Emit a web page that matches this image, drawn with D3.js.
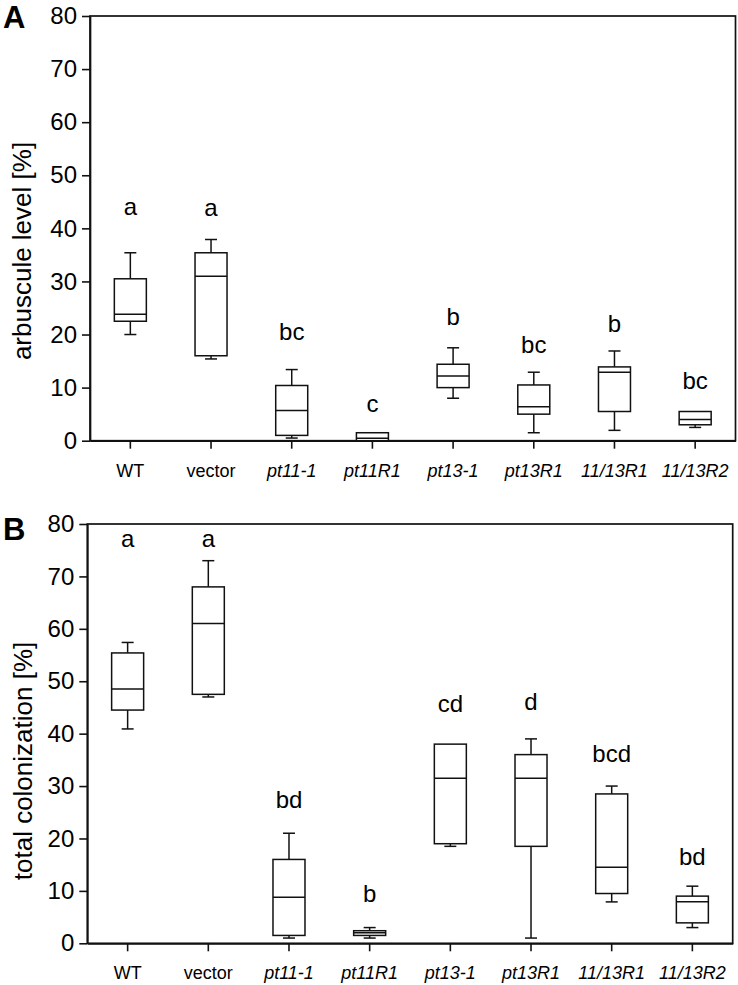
<!DOCTYPE html>
<html>
<head>
<meta charset="utf-8">
<script src="https://cdn.jsdelivr.net/npm/d3@7"></script>
<style>
  html, body { margin: 0; padding: 0; background: #fff; }
  svg { display: block; }
  text { font-family: Arial, "Liberation Sans", Helvetica, sans-serif; fill: #000; }
</style>
</head>
<body>
<svg id="chart" width="738" height="985"></svg>
<script>
// ---------- data ----------
const categories = ["WT", "vector", "pt11-1", "pt11R1", "pt13-1", "pt13R1", "11/13R1", "11/13R2"];
const italicCat  = [false, false, true, true, true, true, true, true];
const yTicks = [0, 10, 20, 30, 40, 50, 60, 70, 80];

// Panel A: arbuscule level [%]
const arbMin = [20.0, 15.4, 0.5, 0.0, 8.0, 1.5, 1.95, 2.5];
const arbQ1  = [22.5, 16.0, 1.0, 0.0, 10.0, 5.0, 5.5, 3.0];
const arbMed = [23.8, 31.0, 5.7, 0.45, 12.2, 6.4, 12.9, 4.0];
const arbQ3  = [30.5, 35.4, 10.4, 1.5, 14.4, 10.5, 13.9, 5.5];
const arbMax = [35.4, 37.9, 13.4, 1.5, 17.5, 12.9, 16.9, 5.5];
const arbLetters   = ["a", "a", "bc", "c", "b", "bc", "b", "bc"];
const arbLetterPos = [42.5, 42.3, 19.0, 5.5, 21.8, 16.5, 20.5, 9.7];

// Panel B: total colonization [%]
const colMin = [40.9, 47.0, 1.0, 1.0, 18.5, 1.0, 7.9, 3.0];
const colQ1  = [44.5, 47.5, 1.5, 1.5, 19.0, 18.5, 9.5, 3.9];
const colMed = [48.5, 61.0, 8.8, 2.0, 31.5, 31.5, 14.5, 7.95];
const colQ3  = [55.4, 68.0, 16.0, 2.4, 38.0, 36.0, 28.5, 9.0];
const colMax = [57.4, 73.0, 21.0, 3.0, 38.0, 39.0, 30.0, 10.9];
const colLetters   = ["a", "a", "bd", "b", "cd", "d", "bcd", "bd"];
const colLetterPos = [75.7, 75.7, 25.8, 7.9, 44.2, 44.5, 34.6, 14.9];

// ---------- drawing ----------
const svg = d3.select("#chart");
const INK = "#111";

function panel(cfg) {
  const g = svg.append("g");
  const x = d3.scaleBand().domain(categories).range([cfg.left, cfg.right]).padding(0);
  const y = d3.scaleLinear().domain([0, 80]).range([cfg.bottom, cfg.top]);
  const bw = 32, cap = 12;
  const cx = c => x(c) + x.bandwidth() / 2;

  // frame
  g.append("rect")
    .attr("x", cfg.left).attr("y", cfg.top)
    .attr("width", cfg.right - cfg.left).attr("height", cfg.bottom - cfg.top)
    .attr("fill", "none").attr("stroke", INK).attr("stroke-width", 1.7);

  // y axis
  const ya = g.append("g").attr("transform", `translate(${cfg.left},0)`)
    .call(d3.axisLeft(y).tickValues(yTicks).tickSize(8).tickSizeOuter(0).tickPadding(5));
  ya.select(".domain").attr("stroke", INK).attr("stroke-width", 1.7);
  ya.selectAll(".tick line").attr("stroke", INK).attr("stroke-width", 1.6);
  ya.selectAll(".tick text").style("font-size", "24px").attr("fill", "#000");

  // x axis
  const xa = g.append("g").attr("transform", `translate(0,${cfg.bottom})`)
    .call(d3.axisBottom(x).tickSize(8).tickSizeOuter(0).tickPadding(0));
  xa.select(".domain").attr("stroke", INK).attr("stroke-width", 1.7);
  xa.selectAll(".tick line").attr("stroke", INK).attr("stroke-width", 1.6);
  xa.selectAll(".tick text")
    .attr("y", 36).attr("dy", null)
    .style("font-size", "18px")
    .style("font-style", (d, i) => italicCat[i] ? "italic" : "normal")
    .attr("fill", "#000");

  // y title
  g.append("text")
    .attr("transform", `translate(${cfg.titleX},${cfg.titleY}) rotate(-90)`)
    .attr("text-anchor", "middle")
    .attr("dy", "0.35em")
    .style("font-size", "26px")
    .text(cfg.title);

  // panel label
  g.append("text")
    .attr("x", 3).attr("y", cfg.labelY)
    .style("font-size", "31px").style("font-weight", "bold")
    .text(cfg.label);

  // boxes
  const d = categories.map((c, i) => ({
    c, min: cfg.min[i], q1: cfg.q1[i], med: cfg.med[i], q3: cfg.q3[i], max: cfg.max[i],
    letter: cfg.letters[i], lp: cfg.letterPos[i]
  }));
  const bx = g.selectAll("g.box").data(d).join("g").attr("class", "box");
  function ln(sel, x1, y1, x2, y2) {
    sel.append("line").attr("x1", x1).attr("y1", y1).attr("x2", x2).attr("y2", y2)
      .attr("stroke", INK).attr("stroke-width", 1.5);
  }
  bx.each(function(b) {
    const s = d3.select(this);
    const xc = cx(b.c);
    if (b.max > b.q3) {
      ln(s, xc, y(b.q3), xc, y(b.max));
      ln(s, xc - cap / 2, y(b.max), xc + cap / 2, y(b.max));
    }
    if (b.min < b.q1) {
      ln(s, xc, y(b.q1), xc, y(b.min));
      ln(s, xc - cap / 2, y(b.min), xc + cap / 2, y(b.min));
    }
    s.append("rect")
      .attr("x", xc - bw / 2).attr("y", y(b.q3))
      .attr("width", bw).attr("height", Math.max(0, y(b.q1) - y(b.q3)))
      .attr("fill", "#fff").attr("stroke", INK).attr("stroke-width", 1.5);
    ln(s, xc - bw / 2, y(b.med), xc + bw / 2, y(b.med));
    s.append("text")
      .attr("x", xc).attr("y", y(b.lp))
      .attr("text-anchor", "middle")
      .style("font-size", "24px")
      .text(b.letter);
  });
}

panel({
  left: 90, right: 735.5, top: 16, bottom: 440.7,
  min: arbMin, q1: arbQ1, med: arbMed, q3: arbQ3, max: arbMax,
  letters: arbLetters, letterPos: arbLetterPos,
  title: "arbuscule level [%]", titleX: 22, titleY: 251,
  label: "A", labelY: 28
});

panel({
  left: 87.3, right: 732.7, top: 524, bottom: 943.3,
  min: colMin, q1: colQ1, med: colMed, q3: colQ3, max: colMax,
  letters: colLetters, letterPos: colLetterPos,
  title: "total colonization [%]", titleX: 23, titleY: 761,
  label: "B", labelY: 540
});
</script>
</body>
</html>
